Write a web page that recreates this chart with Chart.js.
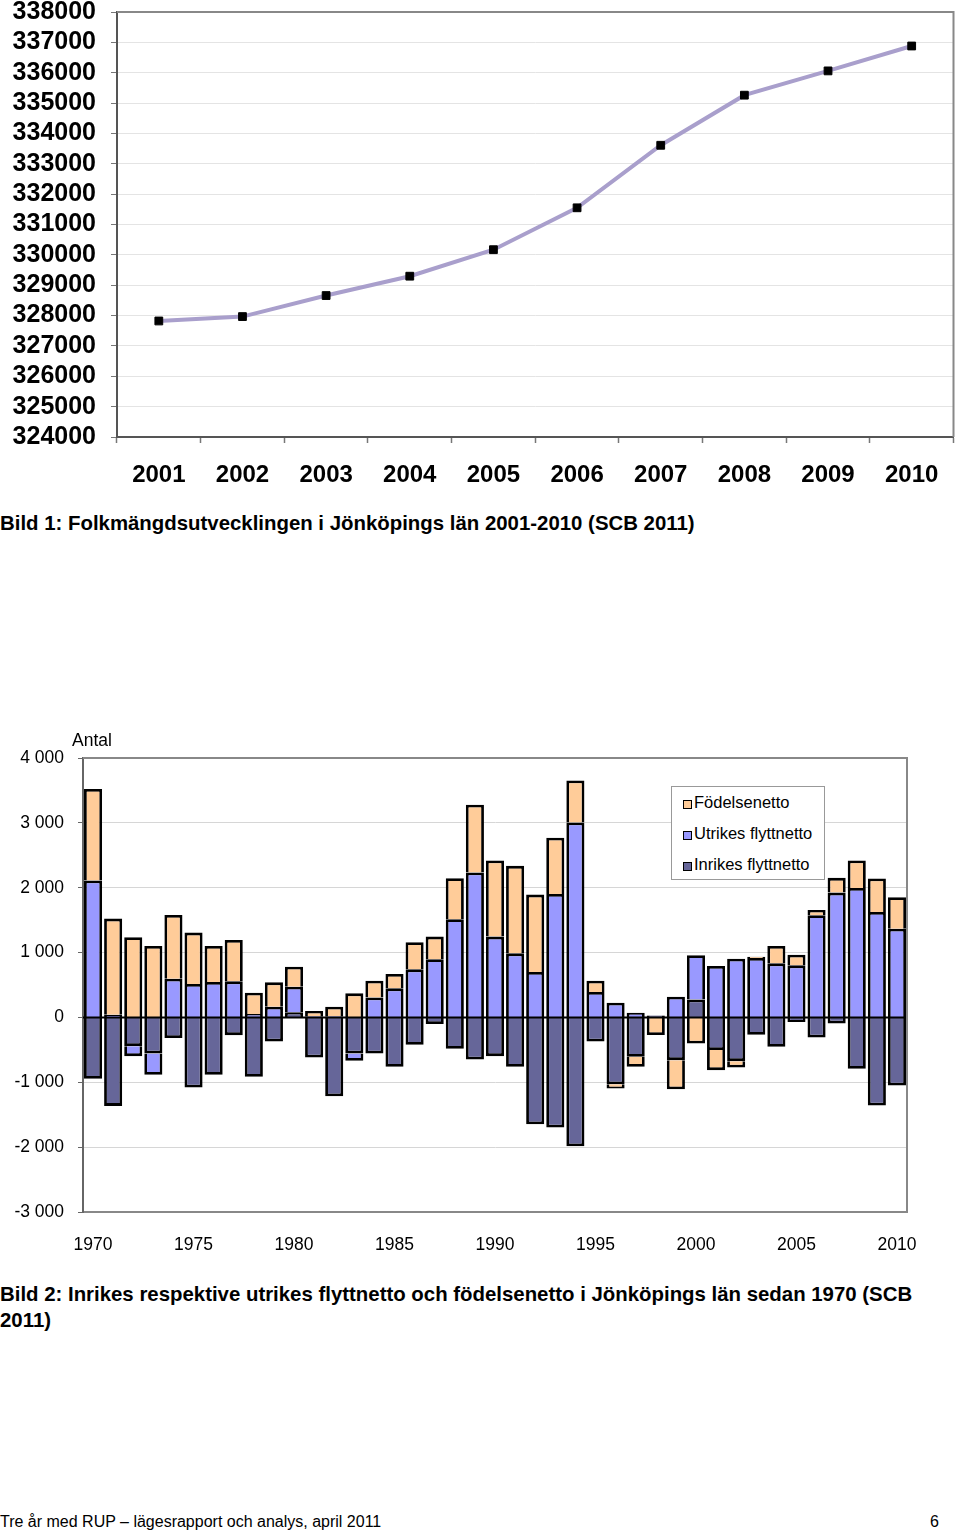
<!DOCTYPE html>
<html>
<head>
<meta charset="utf-8">
<script src="https://cdn.jsdelivr.net/npm/chart.js@4.4.1/dist/chart.umd.min.js"></script>
<style>
  body { margin: 0; background: #fff; font-family: "Liberation Sans", Arial, sans-serif; color: #000; }
  #page { position: relative; width: 960px; height: 1533px; overflow: hidden; }
  .abs { position: absolute; }
  .caption { left: 0; font-weight: bold; font-size: 20.4px; line-height: 26px; white-space: nowrap; }
  #legend { left: 671px; top: 786px; width: 152px; height: 92px; border: 1px solid #999; background: #fff; }
  .item { height: 31px; line-height: 31px; font-size: 16.5px; white-space: nowrap; }
  .swatch { display: inline-block; width: 7px; height: 7px; border: 1.5px solid #000; margin-left: 11px; margin-right: 2px; vertical-align: -1px; }
  .footer { top: 1512px; font-size: 16px; line-height: 20px; }
</style>
</head>
<body>
<div id="page">
  <canvas id="popChart" class="abs" width="960" height="495" style="left:0;top:0"></canvas>
  <div class="abs caption" style="top:510px">Bild 1: Folkmängdsutvecklingen i Jönköpings län 2001-2010 (SCB 2011)</div>

  <canvas id="flowChart" class="abs" width="960" height="540" style="left:0;top:730px"></canvas>
  <div class="abs" style="left:72px;top:730px;font-size:17.5px;line-height:20px">Antal</div>
  <div id="legend" class="abs"></div>
  <div class="abs caption" style="top:1281px">Bild 2: Inrikes respektive utrikes flyttnetto och födelsenetto i Jönköpings län sedan 1970 (SCB<br>2011)</div>

  <div class="abs footer" style="left:0">Tre år med RUP – lägesrapport och analys, april 2011</div>
  <div class="abs footer" style="left:930px">6</div>
</div>

<script>
// Bild 1 - folkmängd
const popYears = ['2001', '2002', '2003', '2004', '2005', '2006', '2007', '2008', '2009', '2010'];
const population = [327822, 327967, 328660, 329297, 330170, 331550, 333610, 335260, 336060, 336880];

// Bild 2 - flyttnetto och födelsenetto
const flowYears = [1970, 1971, 1972, 1973, 1974, 1975, 1976, 1977, 1978, 1979,
                   1980, 1981, 1982, 1983, 1984, 1985, 1986, 1987, 1988, 1989,
                   1990, 1991, 1992, 1993, 1994, 1995, 1996, 1997, 1998, 1999,
                   2000, 2001, 2002, 2003, 2004, 2005, 2006, 2007, 2008, 2009, 2010];
const inrikes = [-947, -1364, -443, -556, -319, -1081, -885, -273, -916, -371,
                 80, -618, -1215, -556, -556, -762, -422, -103, -484, -649,
                 -597, -762, -1647, -1699, -1987, -371, -1030, -607, 25, -659,
                 278, -504, -674, -268, -453, -72, -309, -93, -793, -1359, -1050];
const utrikes = [2111, 40, -154, -329, 597, 515, 546, 556, 51, 165,
                 394, 20, 20, -113, 309, 448, 741, 896, 1514, 2234,
                 1246, 988, 700, 1905, 3006, 391, 227, 72, 10, 319,
                 680, 793, 906, 916, 834, 803, 1575, 1925, 1997, 1627, 1369];
const fodelsenetto = [1410, 1484, 1236, 1102, 983, 793, 556, 638, 330, 376,
                      309, 80, 145, 371, 257, 221, 417, 350, 633, 1045,
                      1174, 1349, 1194, 865, 649, 175, -67, -155, -270, -448,
                      -402, -309, -98, 20, 268, 165, 83, 227, 423, 515, 484];
const flowTicks = [-3000, -2000, -1000, 0, 1000, 2000, 3000, 4000];

const FONT = '"Liberation Sans", Arial, sans-serif';

// draws the grey top/right edge of the plot area, and optionally a zero line
const framePlugin = {
    id: 'frame',
    afterDatasetsDraw(chart, args, opts) {
        const ctx = chart.ctx;
        const a = chart.chartArea;
        ctx.save();
        if (opts.zeroLine) {
            const y0 = chart.scales.y.getPixelForValue(0);
            ctx.strokeStyle = '#000';
            ctx.lineWidth = 2;
            ctx.beginPath();
            ctx.moveTo(a.left, y0);
            ctx.lineTo(a.right, y0);
            ctx.stroke();
        }
        ctx.strokeStyle = opts.color || '#888';
        ctx.lineWidth = opts.width || 2;
        ctx.beginPath();
        ctx.moveTo(a.left, a.top);
        ctx.lineTo(a.right, a.top);
        ctx.lineTo(a.right, a.bottom);
        ctx.stroke();
        ctx.restore();
    }
};

// keep the plot edges where the layout padding puts them
function fixY(width) {
    return function (scale) {
        scale.width = width;
        scale.paddingTop = 0;
        scale.paddingBottom = 0;
    };
}

new Chart(document.getElementById('popChart'), {
    type: 'line',
    data: {
        labels: popYears,
        datasets: [{
            data: population,
            borderColor: '#a99fcc',
            borderWidth: 4,
            tension: 0,
            pointStyle: 'rect',
            pointRadius: 5.5,
            pointBackgroundColor: '#000',
            pointBorderColor: '#000',
            pointBorderWidth: 1
        }]
    },
    options: {
        responsive: false,
        animation: false,
        layout: { padding: { top: 12, right: 4, left: 0, bottom: 0 } },
        plugins: {
            legend: { display: false },
            tooltip: { enabled: false },
            frame: { color: '#888', width: 2 }
        },
        scales: {
            x: {
                offset: true,
                grid: { offset: true, drawOnChartArea: false, tickLength: 6, tickColor: '#777', tickWidth: 1.5 },
                border: { color: '#555', width: 2 },
                ticks: { color: '#000', padding: 18, autoSkip: false, maxRotation: 0,
                         font: { family: FONT, size: 24, weight: 'bold' } },
                afterFit(scale) { scale.height = 58; }
            },
            y: {
                min: 324000,
                max: 338000,
                grid: { color: '#e4e4e4', tickColor: '#777', tickLength: 6 },
                border: { color: '#555', width: 2 },
                ticks: { stepSize: 1000, color: '#000', padding: 15,
                         font: { family: FONT, size: 25, weight: 'bold', lineHeight: 1 },
                         callback: v => String(v) },
                afterFit: fixY(117)
            }
        }
    },
    plugins: [framePlugin]
});

function fmtThousands(v) {
    const s = String(Math.abs(v)).replace(/\B(?=(\d{3})+(?!\d))/g, ' ');
    return (v < 0 ? '-' : '') + s;
}

const flowChart = new Chart(document.getElementById('flowChart'), {
    type: 'bar',
    data: {
        labels: flowYears,
        datasets: [
            { label: 'Inrikes flyttnetto', data: inrikes, backgroundColor: '#666699' },
            { label: 'Utrikes flyttnetto', data: utrikes, backgroundColor: '#9999ff' },
            { label: 'Födelsenetto', data: fodelsenetto, backgroundColor: '#ffcc99' }
        ]
    },
    options: {
        responsive: false,
        animation: false,
        layout: { padding: { top: 28, right: 53, left: 0, bottom: 0 } },
        datasets: {
            bar: { borderColor: '#000', borderWidth: 2.8, barPercentage: 0.9, categoryPercentage: 1 }
        },
        plugins: {
            legend: { display: false },
            tooltip: { enabled: false },
            frame: { color: '#888', width: 2, zeroLine: true }
        },
        scales: {
            x: {
                stacked: true,
                grid: { drawOnChartArea: false, drawTicks: false },
                border: { color: '#888', width: 2 },
                ticks: {
                    color: '#000', padding: 23, autoSkip: false, maxRotation: 0,
                    font: { family: FONT, size: 17.5 },
                    callback: (v, i) => flowYears[i] % 5 === 0 ? String(flowYears[i]) : ''
                },
                afterFit(scale) { scale.height = 58; }
            },
            y: {
                stacked: true,
                min: flowTicks[0],
                max: flowTicks[flowTicks.length - 1],
                grid: { color: '#d6d6d6', tickColor: '#666', tickLength: 5 },
                border: { color: '#666', width: 2 },
                afterBuildTicks(scale) { scale.ticks = flowTicks.map(v => ({ value: v })); },
                ticks: { color: '#000', padding: 14, font: { family: FONT, size: 17.5 },
                         callback: v => fmtThousands(v) },
                afterFit: fixY(83)
            }
        }
    },
    plugins: [framePlugin]
});

// legend inside plot, Excel order (top series first)
const legendBox = document.getElementById('legend');
flowChart.data.datasets.slice().reverse().forEach(ds => {
    const row = document.createElement('div');
    row.className = 'item';
    row.innerHTML = `<span class="swatch" style="background:${ds.backgroundColor}"></span>${ds.label}`;
    legendBox.appendChild(row);
});
</script>
</body>
</html>
